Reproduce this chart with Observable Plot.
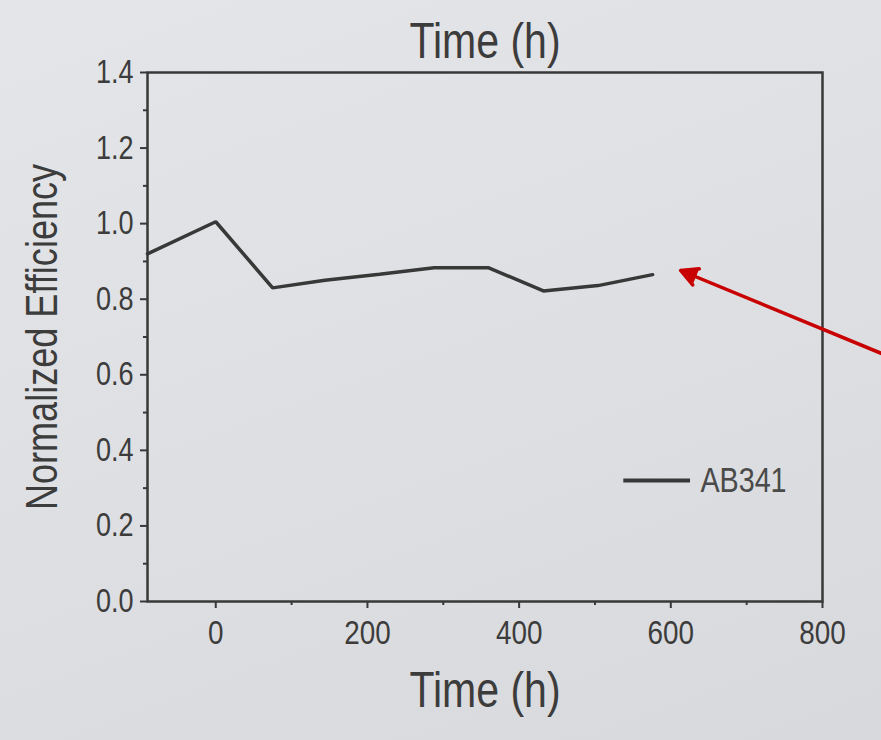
<!DOCTYPE html>
<html>
<head>
<meta charset="utf-8">
<script src="https://cdn.jsdelivr.net/npm/d3@7"></script>
<script src="https://cdn.jsdelivr.net/npm/@observablehq/plot@0.6"></script>
<style>
html, body { margin: 0; padding: 0; }
body { width: 881px; height: 740px; overflow: hidden;
  background: linear-gradient(160deg, #e4e5e8 0%, #dfe0e3 45%, #d8d9dc 100%); }
#chart svg { display: block; background: transparent; font-family: "Liberation Sans", Arial, sans-serif; }
</style>
</head>
<body>
<div id="chart"></div>
<script>
// ---- data ----
const times = [-90, 0, 75, 144, 216, 288, 360, 432, 504, 576];
const efficiency = [0.92, 1.005, 0.83, 0.85, 0.866, 0.883, 0.883, 0.822, 0.836, 0.865];
const seriesName = "AB341";
const xTicks = [0, 200, 400, 600, 800];
const xMinorTicks = [100, 300, 500, 700];
const yTicks = [0, 0.2, 0.4, 0.6, 0.8, 1.0, 1.2, 1.4];
const yMinorTicks = [0.1, 0.3, 0.5, 0.7, 0.9, 1.1, 1.3];
const xLabel = "Time (h)";
const topLabel = "Time (h)";
const yLabel = "Normalized Efficiency";

// annotation (legend sample and red arrow), in data units
const legendSample = [{x1: 538, x2: 626, y: 0.32}];
const legendLabel = [{x: 639, y: 0.32, text: seriesName}];
const pointer = [{x1: 900, y1: 0.638, x2: 613, y2: 0.876}];

const data = times.map((t, i) => ({time: t, eff: efficiency[i]}));

const ink = "#383838";
const textInk = "#3c3c3c";
const red = "#c80000";

const chart = Plot.plot({
  width: 881,
  height: 740,
  marginLeft: 147,
  marginRight: 59,
  marginTop: 72,
  marginBottom: 139,
  style: {background: "transparent", color: textInk},
  x: {domain: [-90, 800]},
  y: {domain: [0, 1.4]},
  marks: [
    Plot.axisX(xTicks, {tickSize: 7, tickPadding: 11, fontSize: 34, stroke: ink, strokeWidth: 2, label: null, tickFormat: d => String(d), fill: textInk}),
    Plot.axisX(xMinorTicks, {tickSize: 4, stroke: ink, strokeWidth: 2, label: null, tickFormat: () => ""}),
    Plot.axisY(yTicks, {tickSize: 7, tickPadding: 7, fontSize: 33, stroke: ink, strokeWidth: 2, label: null, tickFormat: d3.format(".1f"), fill: textInk}),
    Plot.axisY(yMinorTicks, {tickSize: 4, stroke: ink, strokeWidth: 2, label: null, tickFormat: () => ""}),
    Plot.frame({stroke: ink, strokeWidth: 2.5}),
    Plot.line(data, {x: "time", y: "eff", stroke: ink, strokeWidth: 3.5, strokeLinejoin: "miter"}),
    Plot.ruleY(legendSample, {x1: "x1", x2: "x2", y: "y", stroke: ink, strokeWidth: 4}),
    Plot.text(legendLabel, {x: "x", y: "y", text: "text", textAnchor: "start", fontSize: 35, fill: "#4a4a4a"}),
    Plot.arrow(pointer, {x1: "x1", y1: "y1", x2: "x2", y2: "y2", stroke: red, strokeWidth: 3.5, headLength: 8, headAngle: 55, strokeLinejoin: "miter", clip: false}),
    Plot.text([xLabel], {frameAnchor: "bottom", lineAnchor: "middle", textAnchor: "middle", dy: 89, fontSize: 50, fill: textInk}),
    Plot.text([topLabel], {frameAnchor: "top", lineAnchor: "middle", textAnchor: "middle", dy: -31, fontSize: 50, fill: textInk}),
    Plot.text([yLabel], {frameAnchor: "left", lineAnchor: "middle", textAnchor: "middle", dx: -105, rotate: -90, fontSize: 44, fill: textInk})
  ]
});

document.getElementById("chart").appendChild(chart);

// fill the arrow head (closed triangle like the reference)
d3.select(chart).selectAll("g[aria-label='arrow'] path").attr("fill", red);

// condensed (Arial Narrow–like) lettering as in the reference
d3.select(chart).selectAll("text").each(function () {
  const len = this.getComputedTextLength();
  if (len > 0) {
    this.setAttribute("textLength", (len * 0.82).toFixed(1));
    this.setAttribute("lengthAdjust", "spacingAndGlyphs");
  }
});
</script>
</body>
</html>
